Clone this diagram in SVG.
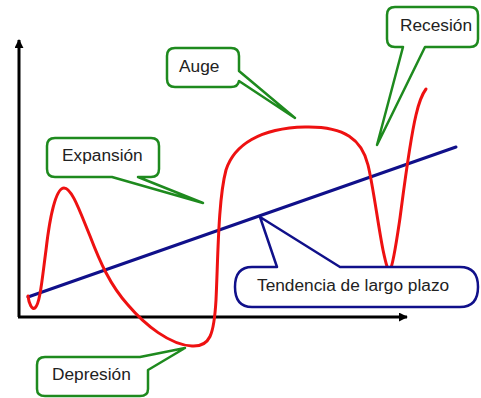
<svg xmlns="http://www.w3.org/2000/svg" width="481" height="398" viewBox="0 0 481 398">
<defs>
<style>
.axis{stroke:#000;stroke-width:3;fill:none}
.trend{stroke:#10108a;stroke-width:3;fill:none;stroke-linecap:round}
.cycle{stroke:#ee1111;stroke-width:3;fill:none;stroke-linecap:round;stroke-linejoin:round}
.callout{fill:#fff;stroke:#1e8a1e;stroke-width:2.5;stroke-linejoin:round}
.callout-blue{fill:#fff;stroke:#10108a;stroke-width:2.5;stroke-linejoin:round}
.lbl{font-family:"Liberation Sans",Arial,sans-serif;font-size:17.3px;fill:#222}
</style>
<marker id="arr" viewBox="0 0 10 10" refX="9" refY="5" markerWidth="3" markerHeight="3" orient="auto" markerUnits="strokeWidth">
<path d="M0,0 L10,5 L0,10 Z" fill="#000"/>
</marker>
</defs>
<rect width="481" height="398" fill="#fff"/>
<g id="connectors">
<path id="y-axis" class="axis" d="M19,317 V40" marker-end="url(#arr)"/>
<path id="x-axis" class="axis" d="M18,317 H407" marker-end="url(#arr)"/>
<path id="trend-line" class="trend" d="M28,297 L456,147"/>
<path id="cycle" class="cycle" d="M28,296 C29,304 32,310 35,308 C40,304 42,280 46,250 C50,215 56,188 64,188 C72,188 80,212 90,236 C100,262 110,285 128,305 C145,325 170,345 192,346 C210,347 214,335 216,300 C218,260 218,200 226,170 C234,145 260,128 305,127 C345,126 362,140 368,165 C373,185 378,225 383,250 C386,264 388,272 390,270 C393,266 396,245 400,218 C405,180 410,140 416,115 C419,102 423,93 426,89"/>
</g>
<g id="expansion">
<path class="callout" d="M55,138 H151 Q159,138 159,146 V169 Q159,177 151,177 H138 L203,203 L112,177 H55 Q47,177 47,169 V146 Q47,138 55,138 Z"/>
<text class="lbl" x="62" y="161">Expansión</text>
</g>
<g id="auge">
<path class="callout" d="M175,48 H231 Q239,48 239,56 V71 L295,118 L239,81 Q238,87 231,87 H175 Q167,87 167,79 V56 Q167,48 175,48 Z"/>
<text class="lbl" x="179" y="72">Auge</text>
</g>
<g id="recesion">
<path class="callout" d="M395,7 H470 Q478,7 478,15 V39 Q478,47 470,47 H425 L377,145 L403,47 H395 Q387,47 387,39 V15 Q387,7 395,7 Z"/>
<text class="lbl" x="400" y="31">Recesión</text>
</g>
<g id="depresion">
<path class="callout" d="M45,357 H140 L185,348 L148,370 V389 Q148,396 140,396 H45 Q37,396 37,389 V365 Q37,357 45,357 Z"/>
<text class="lbl" x="52" y="380">Depresión</text>
</g>
<g id="tendencia">
<path class="callout-blue" d="M252,267 H277 L260,217 L340,267 H460 Q478,267 478,287 Q478,307 460,307 H252 Q235,307 235,287 Q235,267 252,267 Z"/>
<text class="lbl" x="257" y="291">Tendencia de largo plazo</text>
</g>
</svg>
